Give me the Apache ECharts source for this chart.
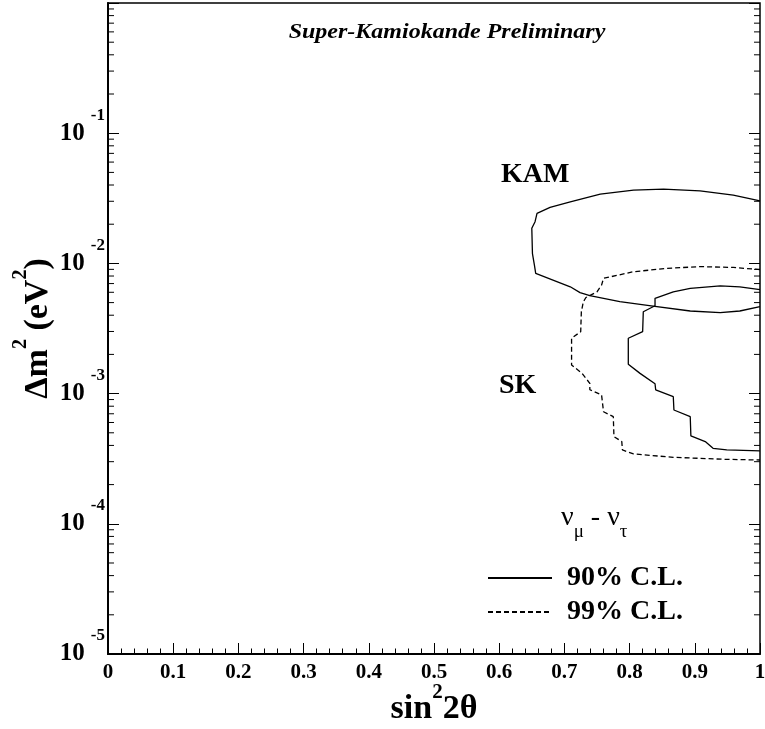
<!DOCTYPE html>
<html>
<head>
<meta charset="utf-8">
<script src="https://cdn.jsdelivr.net/npm/echarts@6/dist/echarts.min.js"></script>
<style>html,body{margin:0;padding:0;background:#fff}#c{width:765px;height:729px}</style>
</head>
<body>
<div id="c"></div>
<script>
// ---- data ----
const xTicks = [0, 0.1, 0.2, 0.3, 0.4, 0.5, 0.6, 0.7, 0.8, 0.9, 1];
const yDecades = [-5, -4, -3, -2, -1, 0];
const yMinorMultipliers = [2, 3, 4, 5, 6, 7, 8, 9];

// KAM 90% C.L. contour (solid)
const kamX = [1.000, 0.959, 0.908, 0.852, 0.806, 0.755, 0.709, 0.678, 0.658, 0.655, 0.650, 0.651, 0.654, 0.656, 0.709, 0.724, 0.739, 0.785, 0.836, 0.893, 0.939, 0.969, 1.000];
const kamY = [0.0302, 0.0334, 0.0361, 0.0372, 0.0365, 0.0340, 0.0297, 0.0269, 0.0242, 0.0209, 0.0186, 0.0119, 0.0097, 0.00838, 0.00661, 0.00597, 0.00566, 0.00509, 0.00470, 0.00431, 0.00418, 0.00431, 0.00466];

// SK 90% C.L. contour (solid)
const sk90X = [1.000, 0.969, 0.939, 0.893, 0.867, 0.839, 0.839, 0.821, 0.820, 0.798, 0.798, 0.816, 0.839, 0.840, 0.867, 0.868, 0.893, 0.894, 0.916, 0.928, 0.949, 1.000];
const sk90Y = [0.00629, 0.00661, 0.00673, 0.00643, 0.00605, 0.00539, 0.00473, 0.00425, 0.00299, 0.00266, 0.00168, 0.00143, 0.00119, 0.00107, 0.000947, 0.000748, 0.000665, 0.000473, 0.000428, 0.000380, 0.000369, 0.000363];

// SK 99% C.L. contour (dashed)
const sk99X = [1.000, 0.959, 0.908, 0.857, 0.806, 0.760, 0.757, 0.750, 0.733, 0.729, 0.726, 0.725, 0.711, 0.711, 0.727, 0.739, 0.739, 0.757, 0.760, 0.775, 0.776, 0.788, 0.789, 0.806, 0.867, 0.944, 1.000];
const sk99Y = [0.00896, 0.00931, 0.00945, 0.00916, 0.00863, 0.00768, 0.00681, 0.00605, 0.00547, 0.00507, 0.00425, 0.00299, 0.00266, 0.00166, 0.00143, 0.00120, 0.00107, 0.000976, 0.000726, 0.000665, 0.000467, 0.000428, 0.000369, 0.000344, 0.000324, 0.000313, 0.000309];

const legendNames = ['90% C.L.', '99% C.L.'];

// ---- build ----
const SERIF = '"Liberation Serif", "DejaVu Serif", serif';
const zip = (xs, ys) => xs.map((x, i) => [x, ys[i]]);
const minorTickData = [];
yDecades.slice(0, -1).forEach(d => yMinorMultipliers.forEach(m => minorTickData.push([0, m * Math.pow(10, d)])));

const chart = echarts.init(document.getElementById('c'), null, {renderer: 'canvas'});
const lineBase = {type: 'line', symbol: 'none', showSymbol: false, smooth: false, clip: false, silent: true, color: '#000', itemStyle: {color: '#000'}};

chart.setOption({
  animation: false,
  backgroundColor: '#fff',
  color: ['#000'],
  grid: {left: 108, right: 5, top: 3, bottom: 75, containLabel: false, outerBoundsMode: 'none', show: true, borderColor: '#000', borderWidth: 1.5, backgroundColor: 'transparent'},
  xAxis: {
    type: 'value', min: 0, max: 1, interval: 0.1,
    axisLine: {show: true, lineStyle: {color: '#000', width: 2}},
    axisTick: {show: true, inside: true, length: 11, lineStyle: {color: '#000', width: 1}},
    minorTick: {show: true, splitNumber: 5, length: 5.5, lineStyle: {color: '#000', width: 1}},
    splitLine: {show: false},
    axisLabel: {
      margin: 8, color: '#000', fontFamily: SERIF, fontWeight: 'bold', fontSize: 21,
      formatter: v => { const t = xTicks.find(k => Math.abs(k - v) < 1e-9); return t === undefined ? '' : String(t); }
    },
    name: '{a|sin}{s|2}{a|2θ}', nameLocation: 'middle', nameGap: 28, nameMoveOverlap: false,
    nameTextStyle: {
      color: '#000',
      rich: {
        a: {fontFamily: SERIF, fontWeight: 'bold', fontSize: 34, lineHeight: 55, color: '#000'},
        s: {fontFamily: SERIF, fontWeight: 'bold', fontSize: 21, lineHeight: 21, verticalAlign: 'top', color: '#000'}
      }
    }
  },
  yAxis: [{
    type: 'log', logBase: 10, min: 1e-5, max: 1,
    axisLine: {show: true, lineStyle: {color: '#000', width: 2}},
    axisTick: {show: true, inside: true, length: 11, lineStyle: {color: '#000', width: 1}},
    splitLine: {show: false},
    axisLabel: {
      margin: 3, color: '#000',
      formatter: v => {
        const e = Math.round(Math.log10(v));
        if (!yDecades.includes(e) || e === 0) return '';
        return '{b|10}{s|' + e + '}';
      },
      rich: {
        b: {fontFamily: SERIF, fontWeight: 'bold', fontSize: 25, lineHeight: 53, color: '#000'},
        s: {fontFamily: SERIF, fontWeight: 'bold', fontSize: 17, lineHeight: 18, verticalAlign: 'top', padding: [0, 0, 0, 6], color: '#000'}
      }
    },
    name: '{a|Δm}{s|2}{a| (eV}{s|2}{a|)}', nameLocation: 'middle', nameGap: 43, nameRotate: 90, nameMoveOverlap: false,
    nameTextStyle: {
      color: '#000',
      rich: {
        a: {fontFamily: SERIF, fontWeight: 'bold', fontSize: 34, lineHeight: 54, color: '#000'},
        s: {fontFamily: SERIF, fontWeight: 'bold', fontSize: 20, lineHeight: 20, verticalAlign: 'top', color: '#000'}
      }
    }
  }, {
    type: 'log', logBase: 10, min: 1e-5, max: 1, position: 'right',
    axisLine: {show: false},
    axisTick: {show: true, inside: true, length: 11, lineStyle: {color: '#000', width: 1}},
    axisLabel: {show: false},
    splitLine: {show: false}
  }],
  legend: {
    orient: 'vertical', left: 487, top: 564, padding: 0, itemWidth: 64, itemHeight: 14, itemGap: 6,
    data: legendNames, selectedMode: false,
    itemStyle: {opacity: 0, borderWidth: 0},
    textStyle: {fontFamily: SERIF, fontWeight: 'bold', fontSize: 28, lineHeight: 28, color: '#000', padding: [0, 0, 0, 10]}
  },
  series: [
    Object.assign({}, lineBase, {name: legendNames[0], data: zip(kamX, kamY), lineStyle: {color: '#000', width: 1.3}}),
    Object.assign({}, lineBase, {name: legendNames[0], data: zip(sk90X, sk90Y), lineStyle: {color: '#000', width: 1.3}}),
    Object.assign({}, lineBase, {name: legendNames[1], data: zip(sk99X, sk99Y), lineStyle: {color: '#000', width: 1.3, type: [5, 3]}}),
    {
      type: 'custom', silent: true, data: minorTickData, clip: false,
      renderItem: (params, api) => {
        const v = api.value(1);
        const l = api.coord([0, v]);
        const r = api.coord([1, v]);
        return {type: 'group', children: [
          {type: 'line', shape: {x1: l[0], y1: l[1], x2: l[0] + 6, y2: l[1]}, style: {stroke: '#000', lineWidth: 1}},
          {type: 'line', shape: {x1: r[0] - 6, y1: r[1], x2: r[0], y2: r[1]}, style: {stroke: '#000', lineWidth: 1}}
        ]};
      }
    }
  ],
  graphic: [
    {type: 'text', x: 447, y: 33, scaleX: 1.2, style: {text: 'Super-Kamiokande Preliminary', font: 'italic bold 20px ' + SERIF, fill: '#000', align: 'center', verticalAlign: 'middle', textAlign: 'center', textVerticalAlign: 'middle'}},
    {type: 'text', x: 501, y: 175, style: {text: 'KAM', font: 'bold 28px ' + SERIF, fill: '#000', align: 'left', verticalAlign: 'middle', textAlign: 'left', textVerticalAlign: 'middle'}},
    {type: 'text', x: 499, y: 386, style: {text: 'SK', font: 'bold 28px ' + SERIF, fill: '#000', align: 'left', verticalAlign: 'middle', textAlign: 'left', textVerticalAlign: 'middle'}},
    {type: 'text', x: 561, y: 518, style: {
      text: '{n|ν}{s|μ}{n| - ν}{s|τ}', fill: '#000', align: 'left', verticalAlign: 'middle', textAlign: 'left', textVerticalAlign: 'middle',
      rich: {
        n: {fontFamily: SERIF, fontSize: 28, lineHeight: 48, fill: '#000', color: '#000'},
        s: {fontFamily: SERIF, fontSize: 19, lineHeight: 19, verticalAlign: 'bottom', fill: '#000', color: '#000'}
      }
    }}
  ]
});
</script>
</body>
</html>
